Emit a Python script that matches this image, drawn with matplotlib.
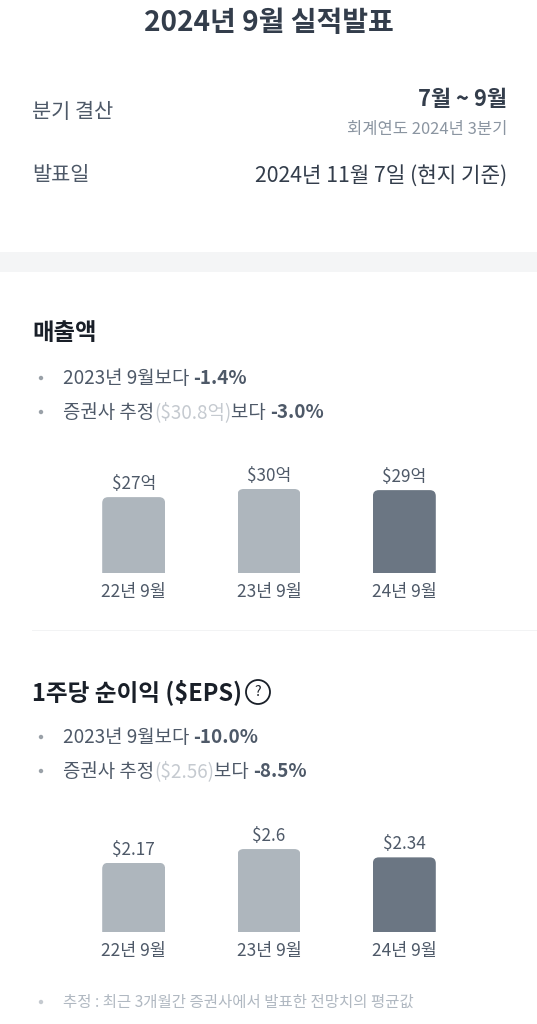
import matplotlib
matplotlib.use('Agg')
import matplotlib.pyplot as plt
from matplotlib.patches import Circle, FancyBboxPatch, Rectangle
from matplotlib.transforms import IdentityTransform

plt.rcParams['font.family'] = ['Noto Sans CJK KR', 'DejaVu Sans']

W, H = 537, 1024

CATEGORIES = ['22년 9월', '23년 9월', '24년 9월']
REVENUE = [27.1, 30.0, 29.6]
REVENUE_LABELS = ['$27억', '$30억', '$29억']
EPS = [2.17, 2.6, 2.34]
EPS_LABELS = ['$2.17', '$2.6', '$2.34']

INK = '#333d4b'
BODY = '#4e5968'
MUTED = '#8b95a1'
FAINT = '#c5cad0'
BAR_LIGHT = '#aeb6bd'
BAR_DARK = '#6b7683'
BAR_COLORS = [BAR_LIGHT, BAR_LIGHT, BAR_DARK]


def put(ax, x, y, s, size=13.6, color=BODY, weight='normal', ha='left'):
    # va='center' 가 글자 중심보다 조금 위로 잡혀서 2.5px 내린다
    return ax.text(x, y + 2.5, s, fontsize=size, color=color, fontweight=weight,
                   ha=ha, va='center')


def put_runs(fig, ax, x, y, runs, size=13.6):
    """색/굵기가 다른 조각을 이어서 한 줄로 쓴다."""
    renderer = fig.canvas.get_renderer()
    for s, color, weight in runs:
        t = put(ax, x, y, s, size=size, color=color, weight=weight)
        x = t.get_window_extent(renderer).x1
    return x


def bullet(ax, y, color='#9aa1a8'):
    ax.add_patch(Circle((41, y), 2.2, color=color, lw=0))


def bar_panel(fig, base_px, per_unit, values, labels):
    top_px = base_px - 100
    left, right = 66, 472
    ax = fig.add_axes([left / W, 1 - base_px / H,
                       (right - left) / W, (base_px - top_px) / H])
    bars = ax.bar(range(3), values, width=0.465, color=BAR_COLORS, linewidth=0)
    ax.set_xlim(-0.5, 2.5)
    ax.set_ylim(0, 100 / per_unit)
    ax.patch.set_visible(False)
    for s in ax.spines.values():
        s.set_visible(False)
    ax.set_yticks([])
    ax.set_xticks(range(3))
    ax.set_xticklabels(CATEGORIES, fontsize=12.5, color=BODY)
    ax.tick_params(axis='x', length=0, pad=7.5)
    # 위쪽만 둥근 모서리: 아래로 늘린 둥근 사각형으로 클립
    for b, lab in zip(bars, labels):
        ex = b.get_window_extent()
        clip = FancyBboxPatch((ex.x0, ex.y0 - 20), ex.width, ex.height + 20,
                              boxstyle='round,pad=0,rounding_size=6',
                              transform=IdentityTransform())
        b.set_clip_path(clip)
        ax.annotate(lab, (b.get_x() + b.get_width() / 2, b.get_height()),
                    xytext=(0, 9.4), textcoords='offset points',
                    ha='center', va='center', fontsize=12.3, color=BODY)
    return ax


fig = plt.figure(figsize=(W / 100, H / 100), dpi=100, facecolor='white')
bg = fig.add_axes([0, 0, 1, 1])
bg.set_xlim(0, W)
bg.set_ylim(H, 0)
bg.axis('off')

bg.add_patch(Rectangle((0, 252), W, 20, color='#f4f5f6', lw=0))
bg.add_patch(Rectangle((32, 630), W - 32, 1, color='#f2f3f4', lw=0))

put(bg, 268.5, 21, '2024년 9월 실적발표', size=20.2, color=INK, weight='bold', ha='center')

put(bg, 32, 110, '분기 결산', size=15)
put(bg, 507, 97, '7월 ~ 9월', size=15.8, color=INK, weight='bold', ha='right')
put(bg, 507, 127, '회계연도 2024년 3분기', size=11.9, color=MUTED, ha='right')
put(bg, 32, 173, '발표일', size=15)
put(bg, 507, 173, '2024년 11월 7일 (현지 기준)', size=15.3, color=INK, ha='right')

put(bg, 32, 331, '매출액', size=16.8, color='#191f28', weight='bold')
bullet(bg, 378)
put_runs(fig, bg, 63, 376, [('2023년 9월보다 ', BODY, 'normal'), ('-1.4%', BODY, 'bold')])
bullet(bg, 412)
put_runs(fig, bg, 63, 410, [('증권사 추정', BODY, 'normal'), ('($30.8억)', FAINT, 'normal'),
                            ('보다 ', BODY, 'normal'), ('-3.0%', BODY, 'bold')])

put_runs(fig, bg, 32, 690, [('1주당 순이익 ($EPS)', '#191f28', 'bold')], size=17)
bg.add_patch(Circle((258, 692), 12, fill=False, ec='#191f28', lw=1.3))
put(bg, 258, 689.5, '?', size=10, color='#191f28', ha='center')
bullet(bg, 737)
put_runs(fig, bg, 63, 735, [('2023년 9월보다 ', BODY, 'normal'), ('-10.0%', BODY, 'bold')])
bullet(bg, 771)
put_runs(fig, bg, 63, 769, [('증권사 추정', BODY, 'normal'), ('($2.56)', FAINT, 'normal'),
                            ('보다 ', BODY, 'normal'), ('-8.5%', BODY, 'bold')])

bullet(bg, 1002, color=FAINT)
put(bg, 63, 1000, '추정 : 최근 3개월간 증권사에서 발표한 전망치의 평균값', size=11.15, color='#b0b8c1')

bar_panel(fig, 573, 2.8, REVENUE, REVENUE_LABELS)
bar_panel(fig, 932, 31.9, EPS, EPS_LABELS)

fig.savefig('out.png', dpi=100)
